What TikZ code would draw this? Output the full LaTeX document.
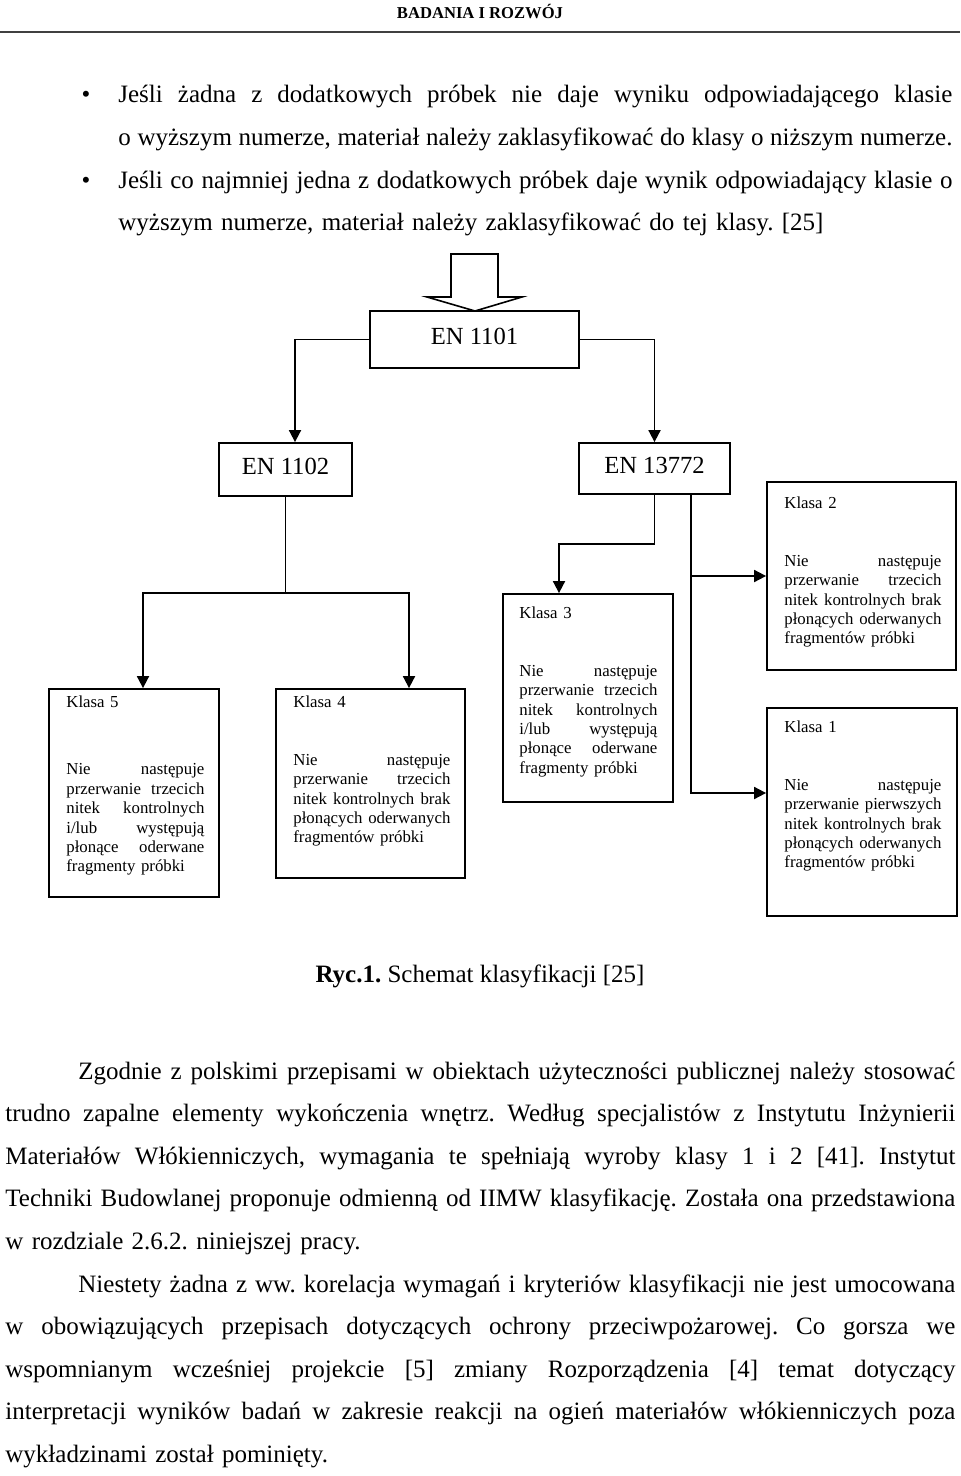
\documentclass[tikz,border=0pt]{standalone}
\usepackage{fontspec}
\setmainfont{Liberation Serif}
\usetikzlibrary{arrows.meta,calc}
\newcommand{\jline}[1]{\hbox to \hsize{\spaceskip=0.25em plus 1fil minus 0.1em\relax #1}\par}
\newcommand{\jind}[2]{\hbox to \hsize{\spaceskip=0.25em plus 1fil minus 0.1em\relax\hspace*{#1}#2}\par}
\hbadness=10000 \hfuzz=20pt
\frenchspacing
\begin{document}
\begin{tikzpicture}[x=0.5pt,y=-0.5pt,
  box/.style={draw, line width=0.9pt, inner sep=0pt, fill=white},
  enbox/.style={box, font=\fontsize{12.3pt}{14pt}\selectfont, text depth=3pt},
  arr/.style={line width=0.9pt, -{Triangle[length=6pt,width=6pt]}},
  ln/.style={line width=0.9pt},
  small/.style={inner sep=0pt, font=\fontsize{8.4pt}{9.7pt}\selectfont},
  body/.style={inner sep=0pt, font=\fontsize{12.5pt}{21.3pt}\selectfont}]
\useasboundingbox (0,0) rectangle (960,1476);

% header
\node[inner sep=0pt, anchor=base, font=\bfseries\fontsize{8.3pt}{10pt}\selectfont] (hdr) at (480,18.5) {BADANIA I ROZWÓJ};
\draw[line width=1pt, black!75] (0,32) coordinate (r1) -- (960,32) coordinate (r2);

% bullets
\node[body, anchor=base] (d1) at (86,103) {\textbullet};
\node[body, text width=417pt, anchor=base west] (b1) at (118,103) {%
\jline{Jeśli żadna z dodatkowych próbek nie daje wyniku odpowiadającego klasie}%
\jline{o wyższym numerze, materiał należy zaklasyfikować do klasy o niższym numerze.}};
\node[body, anchor=base] (d2) at (86,188.2) {\textbullet};
\node[body, text width=417pt, anchor=base west] (b2) at (118,188.2) {%
\jline{Jeśli co najmniej jedna z dodatkowych próbek daje wynik odpowiadający klasie o}%
wyższym numerze, materiał należy zaklasyfikować do tej klasy. [25]\par};

% big input arrow
\draw[line width=0.8pt, fill=white] (451,254) -- (498,254) -- (498,297) -- (522,297)
  -- (475,311) coordinate (tip) -- (427,297) -- (451,297) -- cycle;

% EN boxes
\node[enbox, minimum width=104.5pt, minimum height=28.5pt] (en1101) at (474.5,339.5) {EN 1101};
\node[enbox, minimum width=66.5pt, minimum height=26.5pt] (en1102) at (285.5,469.5) {EN 1102};
\node[enbox, minimum width=75.5pt, minimum height=25.5pt] (en13772) at (654.5,468.5) {EN 13772};

% class boxes
\node[box, minimum width=94.5pt, minimum height=94pt] (k2) at (861.5,576) {};
\node[box, minimum width=85pt, minimum height=104pt] (k3) at (588,698) {};
\node[box, minimum width=85pt, minimum height=104pt] (k5) at (134,793) {};
\node[box, minimum width=94.5pt, minimum height=94.5pt] (k4) at (370.5,783.5) {};
\node[box, minimum width=95pt, minimum height=104pt] (k1) at (862,812) {};

% connectors
\draw[arr] (en1101.west) -| ($(en1102.north)+(9.5,0)$);
\draw[arr] (en1101.east) -| (en13772.north);
\coordinate (j1) at ($(en1102.south)+(0,96)$);
\draw[ln] (en1102.south) -- (j1);
\draw[arr] (j1) -| ($(k5.north)+(9,0)$);
\draw[arr] (j1) -| ($(k4.north)+(38.5,0)$);
\draw[arr] (en13772.south) -- ++(0,49) -| ($(k3.north)+(-29,0)$);
\coordinate (t2) at ($(en13772.south)+(36.5,0)$);
\draw[arr] (t2) |- ($(k1.west)+(0,-19)$);
\draw[arr] (t2 |- k2.west) -- (k2.west);

% class texts
\node[small, text width=78.5pt, anchor=base west] (k2t) at (784,508) {%
Klasa 2\par\vspace{2\baselineskip}%
\jline{Nie następuje}\jline{przerwanie trzecich}\jline{nitek kontrolnych brak}%
\jline{płonących oderwanych}fragmentów próbki\par};
\node[small, text width=69pt, anchor=base west] (k3t) at (519,618) {%
Klasa 3\par\vspace{2\baselineskip}%
\jline{Nie następuje}\jline{przerwanie trzecich}\jline{nitek kontrolnych}%
\jline{i/lub występują}\jline{płonące oderwane}fragmenty próbki\par};
\node[small, text width=69pt, anchor=base west] (k5t) at (66,707) {%
Klasa 5\par\vspace{2.5\baselineskip}%
\jline{Nie następuje}\jline{przerwanie trzecich}\jline{nitek kontrolnych}%
\jline{i/lub występują}\jline{płonące oderwane}fragmenty próbki\par};
\node[small, text width=78.5pt, anchor=base west] (k4t) at (293,707) {%
Klasa 4\par\vspace{2\baselineskip}%
\jline{Nie następuje}\jline{przerwanie trzecich}\jline{nitek kontrolnych brak}%
\jline{płonących oderwanych}fragmentów próbki\par};
\node[small, text width=78.5pt, anchor=base west] (k1t) at (784,732) {%
Klasa 1\par\vspace{2\baselineskip}%
\jline{Nie następuje}\jline{przerwanie pierwszych}\jline{nitek kontrolnych brak}%
\jline{płonących oderwanych}fragmentów próbki\par};

% caption
\node[body, anchor=base] (cap) at (480,982) {\textbf{Ryc.1.} Schemat klasyfikacji [25]};

% body text
\node[body, text width=475pt, anchor=base west] (p1) at (5,1079) {%
\jind{36.5pt}{Zgodnie z polskimi przepisami w obiektach użyteczności publicznej należy stosować}%
\jline{trudno zapalne elementy wykończenia wnętrz. Według specjalistów z Instytutu Inżynierii}%
\jline{Materiałów Włókienniczych, wymagania te spełniają wyroby klasy 1 i 2 [41]. Instytut}%
\jline{Techniki Budowlanej proponuje odmienną od IIMW klasyfikację. Została ona przedstawiona}%
w rozdziale 2.6.2. niniejszej pracy.\par
\jind{36.5pt}{Niestety żadna z ww. korelacja wymagań i kryteriów klasyfikacji nie jest umocowana}%
\jline{w obowiązujących przepisach dotyczących ochrony przeciwpożarowej. Co gorsza we}%
\jline{wspomnianym wcześniej projekcie [5] zmiany Rozporządzenia [4] temat dotyczący}%
\jline{interpretacji wyników badań w zakresie reakcji na ogień materiałów włókienniczych poza}%
wykładzinami został pominięty.\par};
\end{tikzpicture}
\end{document}
